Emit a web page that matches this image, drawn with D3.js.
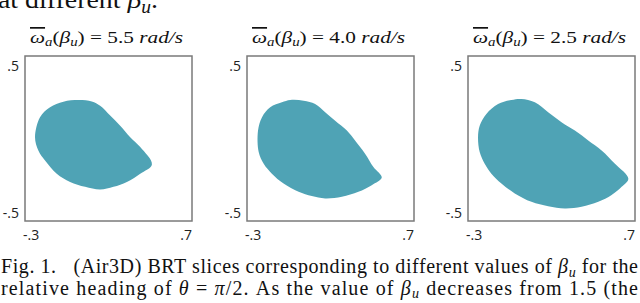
<!DOCTYPE html>
<html>
<head>
<meta charset="utf-8">
<script src="https://cdn.jsdelivr.net/npm/d3@7"></script>
<style>
  body { margin: 0; background: #fff; }
  svg { display: block; }
</style>
</head>
<body>
<svg id="fig"></svg>
<script>
// omega values shown in the panel titles (rad/s)
var omegaValues = [5.5, 4.0, 2.5];
var omegaLabels = ["5.5", "4.0", "2.5"];

// axis ranges and tick labels
var xTicks = [-0.3, 0.7];
var yTicks = [-0.5, 0.5];
var xTickLabels = ["-.3", ".7"];
var yTickLabels = ["-.5", ".5"];

// BRT slice outlines, [x, y]
var slice55 = [
  [-0.24, 0.008], [-0.21, 0.129], [-0.15, 0.189], [-0.07, 0.223], [0.02, 0.233],
  [0.10, 0.225], [0.15, 0.199], [0.21, 0.139], [0.27, 0.078], [0.33, 0.008],
  [0.39, -0.052], [0.46, -0.157], [0.39, -0.213], [0.31, -0.263], [0.23, -0.293],
  [0.15, -0.309], [0.06, -0.293], [-0.03, -0.263], [-0.11, -0.213], [-0.18, -0.133],
  [-0.22, -0.072]
];
var slice40 = [
  [-0.234, 0.048], [-0.210, 0.129], [-0.161, 0.189], [-0.091, 0.219], [-0.041, 0.233],
  [0.039, 0.229], [0.108, 0.209], [0.168, 0.159], [0.228, 0.108], [0.298, 0.048],
  [0.347, -0.012], [0.407, -0.092], [0.457, -0.173], [0.507, -0.237], [0.447, -0.283],
  [0.367, -0.323], [0.268, -0.353], [0.168, -0.363], [0.088, -0.349], [0.009, -0.323],
  [-0.081, -0.273], [-0.151, -0.213], [-0.200, -0.153], [-0.230, -0.082]
];
var slice25 = [
  [-0.24, 0.008], [-0.23, 0.078], [-0.19, 0.149], [-0.12, 0.209], [-0.04, 0.233],
  [0.02, 0.239], [0.10, 0.219], [0.18, 0.159], [0.26, 0.098], [0.34, 0.048],
  [0.42, -0.012], [0.50, -0.072], [0.58, -0.153], [0.66, -0.243], [0.62, -0.293],
  [0.56, -0.343], [0.48, -0.384], [0.38, -0.414], [0.28, -0.424], [0.18, -0.410],
  [0.08, -0.384], [-0.02, -0.333], [-0.10, -0.273], [-0.16, -0.213], [-0.20, -0.153],
  [-0.23, -0.082]
];
var slices = [slice55, slice40, slice25];

// caption runs: [text, style] with style "" plain, "i" italic, "sub" italic subscript
var captionLine1 = [
  ["Fig. 1.   (Air3D) BRT slices corresponding to different values of ", ""],
  ["β", "i"], ["u", "sub"], [" for the", ""]
];
var captionLine2 = [
  ["relative heading of ", ""], ["θ", "i"], [" = ", ""], ["π", "i"],
  ["/2. As the value of ", ""], ["β", "i"], ["u", "sub"], [" decreases from 1.5 (the", ""]
];
var headerRuns = [["at different ", ""], ["β", "i"], ["u", "sub"], [".", ""]];

var serif = "'Liberation Serif', 'Times New Roman', serif";
var sans = "'Open Sans', 'DejaVu Sans', sans-serif";

var width = 640, height = 303;
var svg = d3.select("#fig").attr("width", width).attr("height", height);

function writeRuns(textSel, runs, size) {
  var down = false;
  runs.forEach(function(r) {
    var span = textSel.append("tspan").text(r[0]);
    if (r[1] === "i" || r[1] === "sub") span.attr("font-style", "italic");
    if (r[1] === "sub") {
      span.attr("font-size", size * 0.7).attr("dy", size * 0.18);
      down = true;
    } else if (down) {
      span.attr("dy", -size * 0.18);
      down = false;
    }
  });
}

// text above the figure, cut off by the crop
var header = svg.append("text")
    .attr("x", -2)
    .attr("y", 8)
    .attr("font-family", serif)
    .attr("font-size", 26)
    .attr("fill", "#111")
    .attr("xml:space", "preserve");
writeRuns(header, headerRuns, 26);
header.attr("textLength", 160).attr("lengthAdjust", "spacingAndGlyphs");

var panelLeft = [25, 247, 468];
var panelTop = 56, panelW = 167, panelH = 165;

slices.forEach(function(pts, i) {
  var g = svg.append("g").attr("transform", "translate(" + panelLeft[i] + "," + panelTop + ")");

  var x = d3.scaleLinear().domain(d3.extent(xTicks)).range([0, panelW]);
  var y = d3.scaleLinear().domain(d3.extent(yTicks)).range([panelH, 0]);

  var line = d3.line()
      .x(d => x(d[0]))
      .y(d => y(d[1]))
      .curve(d3.curveCatmullRomClosed.alpha(0.5));

  g.append("path")
      .datum(pts)
      .attr("d", line)
      .attr("fill", "#4fa3b5");

  g.append("rect")
      .attr("x", 0)
      .attr("y", 0)
      .attr("width", panelW)
      .attr("height", panelH)
      .attr("fill", "none")
      .attr("stroke", "#7a7a7a")
      .attr("stroke-width", 1.5);

  g.selectAll(".ytick")
    .data(yTicks)
    .enter().append("text")
      .attr("x", -6)
      .attr("y", d => d > 0 ? y(d) + 15 : y(d) - 3)
      .attr("text-anchor", "end")
      .attr("font-family", sans)
      .attr("font-size", 14)
      .attr("fill", "#222")
      .text((d, j) => yTickLabels[j]);

  g.selectAll(".xtick")
    .data(xTicks)
    .enter().append("text")
      .attr("x", (d, j) => j === 0 ? x(d) - 2 : x(d))
      .attr("y", panelH + 19)
      .attr("text-anchor", (d, j) => j === 0 ? "start" : "end")
      .attr("font-family", sans)
      .attr("font-size", 14)
      .attr("fill", "#222")
      .text((d, j) => xTickLabels[j]);

  // title: omega-bar_a(beta_u) = value rad/s
  var t = svg.append("text")
      .attr("x", panelLeft[i] + panelW / 2 - 2)
      .attr("y", 43)
      .attr("text-anchor", "middle")
      .attr("font-family", serif)
      .attr("font-size", 17)
      .attr("fill", "#111")
      .attr("xml:space", "preserve");
  t.append("tspan").attr("font-style", "italic")
      .style("text-decoration", "overline").text("ω");
  writeRuns(t, [["a", "sub"], ["(", ""], ["β", "i"], ["u", "sub"],
                [") = " + omegaLabels[i] + " ", ""], ["rad/s", "i"]], 17);
  t.attr("textLength", 153).attr("lengthAdjust", "spacingAndGlyphs");
});

[captionLine1, captionLine2].forEach(function(runs, k) {
  var c = svg.append("text")
      .attr("x", 1)
      .attr("y", 273 + k * 21.5)
      .attr("font-family", serif)
      .attr("font-size", 20)
      .attr("fill", "#111")
      .attr("xml:space", "preserve");
  writeRuns(c, runs, 20);
  c.attr("textLength", 637).attr("lengthAdjust", "spacing");
});
</script>
</body>
</html>
